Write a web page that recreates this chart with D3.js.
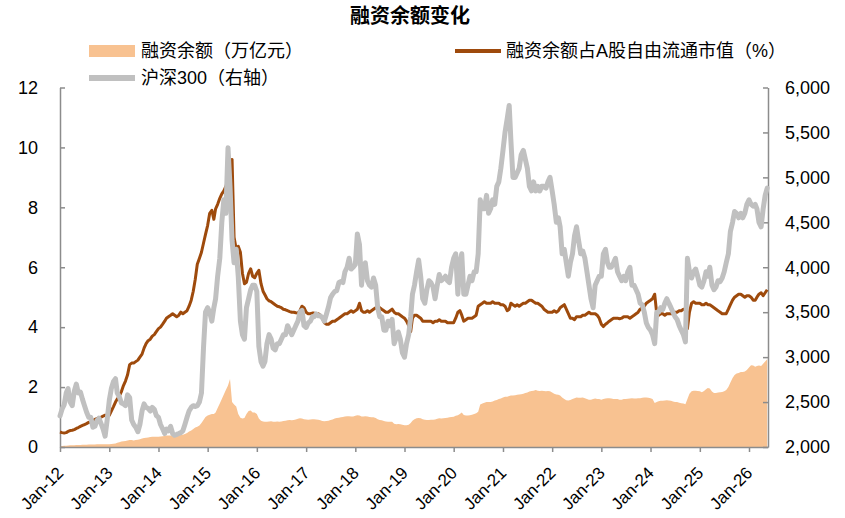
<!DOCTYPE html>
<html><head><meta charset="utf-8">
<script src="https://cdn.jsdelivr.net/npm/d3@7"></script>
<style>body{margin:0;background:#fff} svg{display:block}</style>
</head><body>
<svg id="c" width="845" height="518"></svg>
<script>
// Semi-monthly observations (1st and 16th of each month) from Jan 2012 to mid-May 2026
const startYear = 2012;
const tickYears = [2012,2013,2014,2015,2016,2017,2018,2019,2020,2021,2022,2023,2024,2025,2026];
const leftTicks = [0,2,4,6,8,10,12];
const rightTicks = [2000,2500,3000,3500,4000,4500,5000,5500,6000];

// 融资余额（万亿元）
const financing = [
 0.035,0.035,0.04,0.045,0.05,0.055,0.06,0.062,0.065,0.068,0.07,0.073,0.075,0.078,0.08,0.082,0.085,0.087,0.09,0.092,0.093,0.094,0.095,0.09,
 0.09,0.1,0.11,0.12,0.14,0.16,0.18,0.19,0.2,0.22,0.23,0.23,0.22,0.23,0.24,0.26,0.28,0.3,0.31,0.32,0.33,0.34,0.34,0.34,
 0.34,0.35,0.36,0.37,0.38,0.38,0.38,0.38,0.38,0.39,0.39,0.4,0.41,0.43,0.47,0.52,0.55,0.6,0.65,0.68,0.72,0.8,0.9,1.0,
 1.05,1.08,1.1,1.1,1.15,1.3,1.45,1.6,1.75,1.9,2.05,2.27,1.5,1.42,1.35,1.1,0.98,0.95,0.97,1.1,1.2,1.22,1.15,1.15,
 1.1,0.95,0.88,0.85,0.84,0.84,0.85,0.86,0.84,0.84,0.85,0.84,0.85,0.87,0.88,0.89,0.9,0.89,0.9,0.92,0.94,0.96,0.95,0.93,
 0.92,0.91,0.92,0.93,0.93,0.92,0.91,0.89,0.87,0.86,0.87,0.88,0.9,0.92,0.95,0.97,0.98,0.99,1.0,1.02,1.03,1.03,1.02,1.02,
 1.04,1.06,1.05,1.02,1.02,1.03,1.02,1.0,0.99,0.99,0.97,0.93,0.9,0.89,0.87,0.85,0.84,0.84,0.84,0.78,0.76,0.77,0.76,0.74,
 0.73,0.73,0.74,0.8,0.88,0.93,0.96,0.97,0.96,0.93,0.91,0.9,0.9,0.91,0.91,0.92,0.94,0.96,0.95,0.96,0.97,0.98,0.99,1.0,
 1.01,1.04,1.06,1.1,1.15,1.07,1.05,1.05,1.06,1.08,1.1,1.13,1.18,1.42,1.45,1.48,1.5,1.5,1.5,1.52,1.55,1.57,1.6,1.62,
 1.65,1.68,1.68,1.7,1.72,1.72,1.73,1.74,1.75,1.76,1.78,1.8,1.82,1.85,1.87,1.88,1.9,1.88,1.87,1.88,1.87,1.86,1.87,1.86,
 1.82,1.78,1.75,1.74,1.72,1.65,1.6,1.56,1.55,1.57,1.6,1.63,1.65,1.64,1.64,1.65,1.63,1.6,1.58,1.58,1.6,1.62,1.6,1.6,
 1.58,1.6,1.62,1.63,1.63,1.62,1.6,1.6,1.6,1.58,1.58,1.6,1.6,1.61,1.62,1.63,1.62,1.62,1.63,1.63,1.64,1.65,1.65,1.64,
 1.63,1.6,1.47,1.5,1.53,1.54,1.54,1.55,1.56,1.55,1.54,1.52,1.5,1.5,1.48,1.46,1.45,1.43,1.6,1.78,1.86,1.88,1.88,1.87,
 1.86,1.83,1.87,1.93,1.97,1.95,1.85,1.8,1.8,1.82,1.83,1.84,1.86,1.9,2.0,2.15,2.3,2.4,2.45,2.47,2.5,2.5,2.52,2.57,
 2.65,2.73,2.72,2.68,2.7,2.72,2.7,2.78,2.85,2.93
];

// 融资余额占A股自由流通市值（%）
const ratio = [
 0.5,0.48,0.47,0.48,0.52,0.55,0.56,0.58,0.62,0.65,0.69,0.72,0.75,0.78,0.82,0.85,0.88,0.92,0.95,0.97,1.0,1.03,1.06,1.04,
 1.06,1.2,1.35,1.5,1.6,1.7,1.85,2.05,2.2,2.4,2.75,2.8,2.8,2.85,2.9,3.0,3.1,3.3,3.45,3.55,3.6,3.7,3.75,3.85,
 3.95,4.0,4.1,4.2,4.3,4.35,4.4,4.45,4.4,4.35,4.4,4.5,4.45,4.5,4.55,4.7,4.9,5.2,5.6,6.1,6.3,6.5,6.8,7.1,
 7.4,7.8,7.9,7.6,7.95,8.1,8.3,8.45,8.55,8.7,8.9,9.1,9.6,7.0,6.6,6.7,6.5,5.8,5.45,5.5,5.8,5.95,5.7,5.65,
 5.8,5.9,5.45,5.2,5.08,4.95,4.88,4.85,4.8,4.75,4.7,4.68,4.65,4.6,4.58,4.55,4.52,4.5,4.5,4.48,4.47,4.55,4.7,4.65,
 4.5,4.45,4.45,4.47,4.47,4.45,4.45,4.4,4.3,4.15,4.1,4.1,4.15,4.2,4.2,4.25,4.3,4.35,4.4,4.45,4.45,4.5,4.55,4.5,
 4.55,4.6,4.8,4.55,4.5,4.5,4.55,4.5,4.55,4.6,4.65,4.7,4.65,4.6,4.55,4.5,4.5,4.55,4.6,4.5,4.45,4.45,4.4,4.35,
 4.3,4.2,4.05,3.85,4.3,4.4,4.4,4.35,4.3,4.2,4.2,4.2,4.2,4.2,4.15,4.2,4.2,4.25,4.2,4.2,4.2,4.15,4.15,4.15,
 4.15,4.3,4.5,4.55,4.4,4.2,4.25,4.3,4.3,4.3,4.35,4.4,4.7,4.75,4.8,4.85,4.8,4.8,4.8,4.85,4.8,4.8,4.8,4.75,
 4.75,4.7,4.55,4.6,4.8,4.75,4.7,4.75,4.7,4.75,4.8,4.8,4.85,4.9,4.9,4.85,4.8,4.8,4.75,4.7,4.6,4.55,4.5,4.5,
 4.5,4.55,4.5,4.55,4.65,4.7,4.75,4.6,4.45,4.3,4.3,4.25,4.35,4.35,4.35,4.4,4.4,4.45,4.5,4.45,4.45,4.45,4.4,4.3,
 4.1,4.02,4.1,4.15,4.2,4.25,4.3,4.3,4.3,4.28,4.3,4.35,4.35,4.35,4.3,4.35,4.4,4.45,4.5,4.6,4.65,4.7,4.8,4.85,
 4.9,4.95,5.1,4.45,4.4,4.45,4.45,4.4,4.45,4.45,4.45,4.45,4.5,4.5,4.55,4.55,4.6,4.6,3.95,4.5,4.8,4.85,4.8,4.8,
 4.8,4.75,4.75,4.8,4.75,4.75,4.7,4.65,4.6,4.55,4.5,4.45,4.45,4.45,4.6,4.75,4.9,5.0,5.05,5.1,5.1,5.05,5.0,5.05,
 5.05,5.0,4.9,4.9,5.0,5.1,5.15,5.05,5.15,5.25
];

// 沪深300（右轴）
const hs300 = [
 2346,2420,2470,2600,2650,2500,2460,2620,2700,2600,2610,2530,2460,2390,2330,2330,2220,2230,2293,2320,2260,2200,2120,2300,
 2520,2650,2730,2760,2600,2560,2490,2480,2460,2580,2550,2300,2250,2220,2170,2250,2400,2480,2440,2430,2400,2440,2420,2350,
 2330,2250,2200,2150,2200,2180,2230,2150,2130,2140,2150,2160,2180,2250,2330,2400,2440,2460,2450,2460,2500,2600,3100,3500,
 3550,3500,3400,3550,3650,3900,4100,4500,4750,4600,5330,4900,4300,4050,4200,3900,3400,3250,3200,3550,3650,3750,3800,3800,
 3730,3120,2950,2900,2950,3150,3250,3200,3100,3080,3150,3150,3200,3250,3250,3350,3300,3250,3300,3350,3400,3500,3520,3350,
 3330,3380,3400,3450,3450,3480,3460,3460,3440,3400,3480,3560,3660,3700,3730,3740,3830,3840,3830,3950,4000,4100,3980,4000,
 4030,4370,4250,3800,4000,4050,3850,3800,3780,3880,3800,3550,3450,3450,3300,3300,3400,3350,3420,3150,3220,3280,3200,3050,
 3000,3150,3250,3450,3700,3800,3950,4080,3900,3650,3600,3750,3850,3830,3780,3650,3800,3920,3850,3870,3900,3850,3830,4000,
 4100,4150,3700,4050,4150,3700,3700,3800,3900,3850,3950,3950,4150,4750,4650,4650,4800,4600,4650,4750,4700,4900,4950,5100,
 5300,5500,5650,5800,5400,5000,5000,5050,5100,5250,5300,5200,5100,4900,4850,4950,4850,4900,4850,4900,4900,4880,4950,5000,
 4850,4700,4500,4550,4450,4150,4200,4050,3900,4050,4150,4350,4450,4300,4150,4180,4100,3950,3800,3650,3550,3800,3850,3900,
 3900,4150,4200,4050,4000,4000,4050,4100,3950,3900,3850,3900,3850,3950,4000,3800,3800,3750,3700,3600,3580,3500,3380,3330,
 3300,3250,3150,3500,3500,3550,3530,3600,3650,3600,3550,3500,3450,3420,3350,3300,3250,3170,4100,3950,3880,3950,3980,3900,
 3800,3780,3850,3950,3900,4000,3800,3750,3780,3850,3840,3880,3950,4050,4150,4400,4500,4620,4600,4550,4600,4550,4600,4700,
 4750,4700,4680,4700,4650,4500,4450,4650,4800,4880
];

const n = Math.min(financing.length, ratio.length, hs300.length);
const dates = d3.range(n).map(i => new Date(Date.UTC(startYear, Math.floor(i / 2), i % 2 === 0 ? 1 : 16)));

const svg = d3.select("#c");
const plotL = 60, plotR = 768, plotT = 87.5, plotB = 447;

const x = d3.scaleUtc().domain([new Date(Date.UTC(2012,0,1)), new Date(Date.UTC(2026,4,22))]).range([plotL, plotR]);
const yL = d3.scaleLinear().domain([0, 12]).range([plotB, plotT]);
const yR = d3.scaleLinear().domain([2000, 6000]).range([plotB, plotT]);

const latin = "'Liberation Sans', Arial, 'Noto Sans CJK SC', sans-serif";
const cjk = "'Liberation Sans', 'Noto Sans CJK SC', sans-serif";

const C_AREA = "#F8C291", C_BROWN = "#9E4A0C", C_GRAY = "#C0C0C0", C_AXIS = "#8C8C8C";

// Area
svg.append("path")
  .datum(d3.range(n))
  .attr("fill", C_AREA)
  .attr("d", d3.area().x(i => x(dates[i])).y0(yL(0)).y1(i => yL(financing[i])));

// Axes
const gL = svg.append("g").attr("transform", `translate(${plotL},0)`)
  .call(d3.axisLeft(yL).tickValues(leftTicks).tickSizeInner(-5).tickSizeOuter(0).tickPadding(22).tickFormat(d3.format("d")));
const gR = svg.append("g").attr("transform", `translate(${plotR},0)`)
  .call(d3.axisRight(yR).tickValues(rightTicks).tickSizeInner(-5).tickSizeOuter(0).tickPadding(17).tickFormat(d3.format(",")));
const gB = svg.append("g").attr("transform", `translate(0,${plotB})`)
  .call(d3.axisBottom(x).tickValues(tickYears.map(y => new Date(Date.UTC(y,0,1)))).tickSizeInner(5).tickSizeOuter(0).tickFormat(d3.utcFormat("%b-%y")));

[gL, gR, gB].forEach(g => {
  g.select(".domain").attr("stroke", C_AXIS).attr("stroke-width", 1.5);
  g.selectAll(".tick line").attr("stroke", C_AXIS).attr("stroke-width", 1.5);
  g.selectAll("text").attr("fill", "#000").style("font-family", latin);
});
gL.selectAll("text").style("font-size", "18px");
gR.selectAll("text").style("font-size", "18px");
gB.selectAll("text").style("font-size", "17px")
  .attr("y", 0).attr("x", 0).attr("dy", null)
  .attr("text-anchor", "end")
  .attr("transform", "translate(4,27) rotate(-45)");

// Lines
svg.append("path")
  .datum(d3.range(n))
  .attr("fill", "none").attr("stroke", C_BROWN).attr("stroke-width", 3)
  .attr("stroke-linejoin", "round")
  .attr("d", d3.line().x(i => x(dates[i])).y(i => yL(ratio[i])));

svg.append("path")
  .datum(d3.range(n))
  .attr("fill", "none").attr("stroke", C_GRAY).attr("stroke-width", 5)
  .attr("stroke-linejoin", "round").attr("stroke-linecap", "round")
  .attr("d", d3.line().x(i => x(dates[i])).y(i => yR(hs300[i])));

// Title
svg.append("text").attr("x", 410).attr("y", 23)
  .attr("text-anchor", "middle")
  .style("font-family", "'Noto Sans CJK SC', sans-serif")
  .style("font-weight", "700").style("font-size", "20px").attr("fill", "#000")
  .text("融资余额变化");

// Legend
const lg = svg.append("g");
lg.append("rect").attr("x", 89).attr("y", 45).attr("width", 46).attr("height", 12).attr("fill", C_AREA);
lg.append("text").attr("x", 141).attr("y", 51).attr("dy", "0.35em")
  .style("font-family", cjk).style("font-size", "18px").attr("fill", "#000")
  .text("融资余额（万亿元）");
lg.append("line").attr("x1", 455).attr("x2", 501).attr("y1", 51).attr("y2", 51)
  .attr("stroke", C_BROWN).attr("stroke-width", 4);
lg.append("text").attr("x", 506).attr("y", 51).attr("dy", "0.35em")
  .style("font-family", cjk).style("font-size", "18px").attr("fill", "#000")
  .text("融资余额占A股自由流通市值（%）");
lg.append("line").attr("x1", 89).attr("x2", 135).attr("y1", 78).attr("y2", 78)
  .attr("stroke", C_GRAY).attr("stroke-width", 6);
lg.append("text").attr("x", 141).attr("y", 78).attr("dy", "0.35em")
  .style("font-family", cjk).style("font-size", "18px").attr("fill", "#000")
  .text("沪深300（右轴）");
</script>
</body></html>
